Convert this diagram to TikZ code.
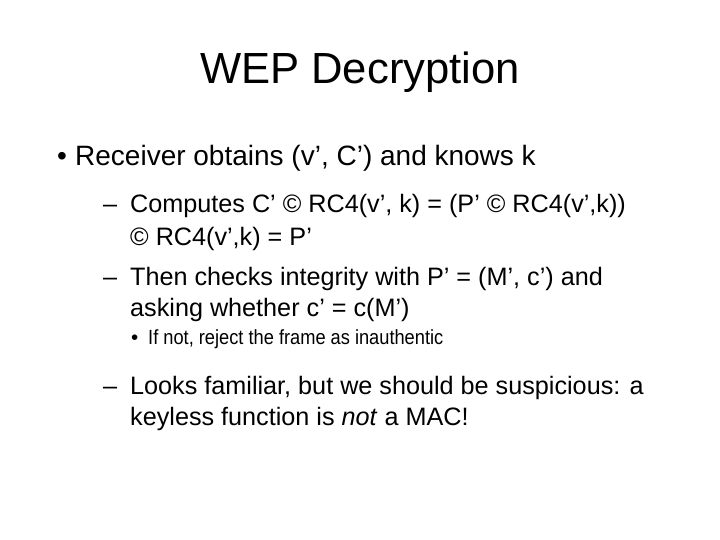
\documentclass[tikz,border=0pt]{standalone}
\usepackage{fontspec}
\setmainfont{Liberation Sans}
\begin{document}
\begin{tikzpicture}[x=1pt,y=-1pt,
  t/.style={anchor=base west,inner sep=0pt},
  l1/.style={t,font=\fontsize{28}{30}\selectfont},
  l2/.style={t,font=\fontsize{25.2}{27}\selectfont},
  l3/.style={t,font=\fontsize{20.5}{23}\selectfont}]
\useasboundingbox (0,0) rectangle (720,540);
\node[anchor=base,inner sep=0pt,font=\fontsize{43.6}{46}\selectfont] (title) at (360,84) {WEP Decryption};
\node[l1] (b1) at (57,166) {•};
\node[l1] (t1) at (75,166) {Receiver obtains (v’, C’) and knows k};
\node[l2] (d1) at (103,213) {–};
\node[l2] (t2) at (130,213) {Computes C’ © RC4(v’, k) = (P’ © RC4(v’,k))};
\node[l2] (t3) at (130,245) {© RC4(v’,k) = P’};
\node[l2] (d2) at (103,285) {–};
\node[l2] (t4) at (130,285) {Then checks integrity with P’ = (M’, c’) and};
\node[l2] (t5) at (130,316) {asking whether c’ = c(M’)};
\node[l3] (b3) at (131,344) {•};
\node[l3] (t6) at (148,344) {\fontsize{23}{25}\selectfont\scalebox{0.89}[1]{\fontsize{20.5}{23}\selectfont If not, reject the frame as inauthentic}};
\node[l2] (d3) at (103,394) {–};
\node[l2] (t7) at (130,394) {Looks familiar, but we should be suspicious: a};
\node[l2] (t8) at (130,425) {keyless function is \textit{not} a MAC!};
\end{tikzpicture}
\end{document}
